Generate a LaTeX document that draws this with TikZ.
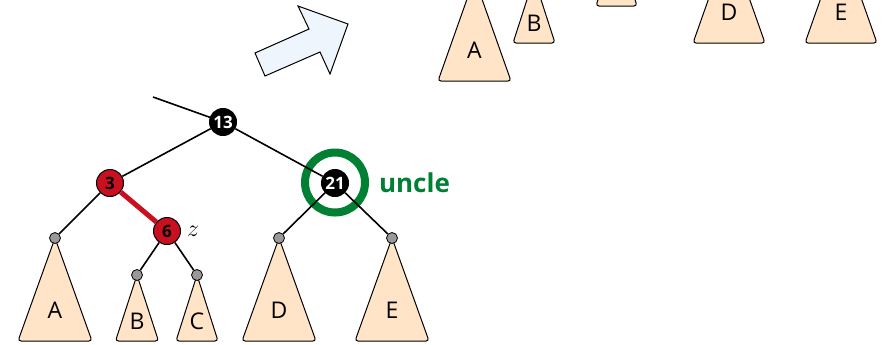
\documentclass[tikz,border=0pt]{standalone}
\usepackage{fontspec}
\setmainfont{Open Sans}
\usetikzlibrary{positioning}
\definecolor{treefill}{RGB}{255,228,200}
\definecolor{rbred}{RGB}{200,16,32}
\definecolor{unclegreen}{RGB}{0,128,51}
\definecolor{arrowfill}{RGB}{238,245,253}
\tikzset{
  blacknode/.style={circle,draw=black,fill=black,text=white,inner sep=0pt,
    minimum size=13.5pt,line width=0.5pt,font=\bfseries\fontsize{8.5}{9}\selectfont},
  rednode/.style={blacknode,fill=rbred,text=black},
  leaf/.style={circle,draw=black,fill=black!40,inner sep=0pt,minimum size=5.5pt,line width=0.4pt},
  subtree/.style={draw=black,fill=treefill,rounded corners=1.5pt,line width=0.5pt},
  sublabel/.style={font=\fontsize{11.5}{13}\selectfont},
  edge/.style={line width=0.8pt}
}
\begin{document}
\begin{tikzpicture}[x=0.5pt,y=-0.5pt]
	\clip (0,0) rectangle (886,344);
	% subtrees, lower tree and the cut-off upper one
	\foreach \x/\y/\w/\h/\l [count=\i] in {55/238/37/103/A,137/275/21.5/66/B,197/275/21/66/C,279/238/37/103/D,392/238/37/103/E,
		474.5/-22/36.5/103/A,534/-22/21/65/B,616.5/-59/20.5/65/{},729/-59/36/102/D,841/-59/36/102/E}
	{
		\draw[subtree] (\x,\y) -- ++(\w,\h) -- ++(-2*\w,0) -- cycle;
		\node[sublabel] (sub\i) at (\x,\y+0.7*\h) {\l};
	}
	% arrow
	\draw[fill=arrowfill,line width=0.5pt] (255,53) -- (309,29) -- (298,6) -- (348,24) -- (330,74) -- (320,52) -- (265,76) -- cycle;
	% uncle ring
	\node[circle,draw=unclegreen,line width=4pt,minimum size=30pt,inner sep=0pt] (ring) at (335,182.5) {};
	\node[right=1.5pt of ring,text=unclegreen,font=\bfseries\fontsize{13}{15}\selectfont] (uncle) {uncle};
	% nodes
	\coordinate (top) at (153,97);
	\node[blacknode] (n13) at (223,122) {13};
	\node[rednode] (n3) at (110,183) {3};
	\node[blacknode] (n21) at (335,183) {21};
	\node[rednode] (n6) at (167,231) {6};
	\node[right=-0.5pt of n6,font=\fontsize{13}{15}\selectfont] (zlbl) {$z$};
	\node[leaf] (lA) at (55,238) {};
	\node[leaf] (lB) at (137,275) {};
	\node[leaf] (lC) at (197,275) {};
	\node[leaf] (lD) at (279,238) {};
	\node[leaf] (lE) at (392,238) {};
	% edges
	\draw[edge] (top) -- (n13) (n13) -- (n3) (n13) -- (n21) (n3) -- (lA)
		(n6) -- (lB) (n6) -- (lC) (n21) -- (lD) (n21) -- (lE);
	\draw[rbred,line width=2.5pt] (n3) -- (n6);
\end{tikzpicture}
\end{document}
